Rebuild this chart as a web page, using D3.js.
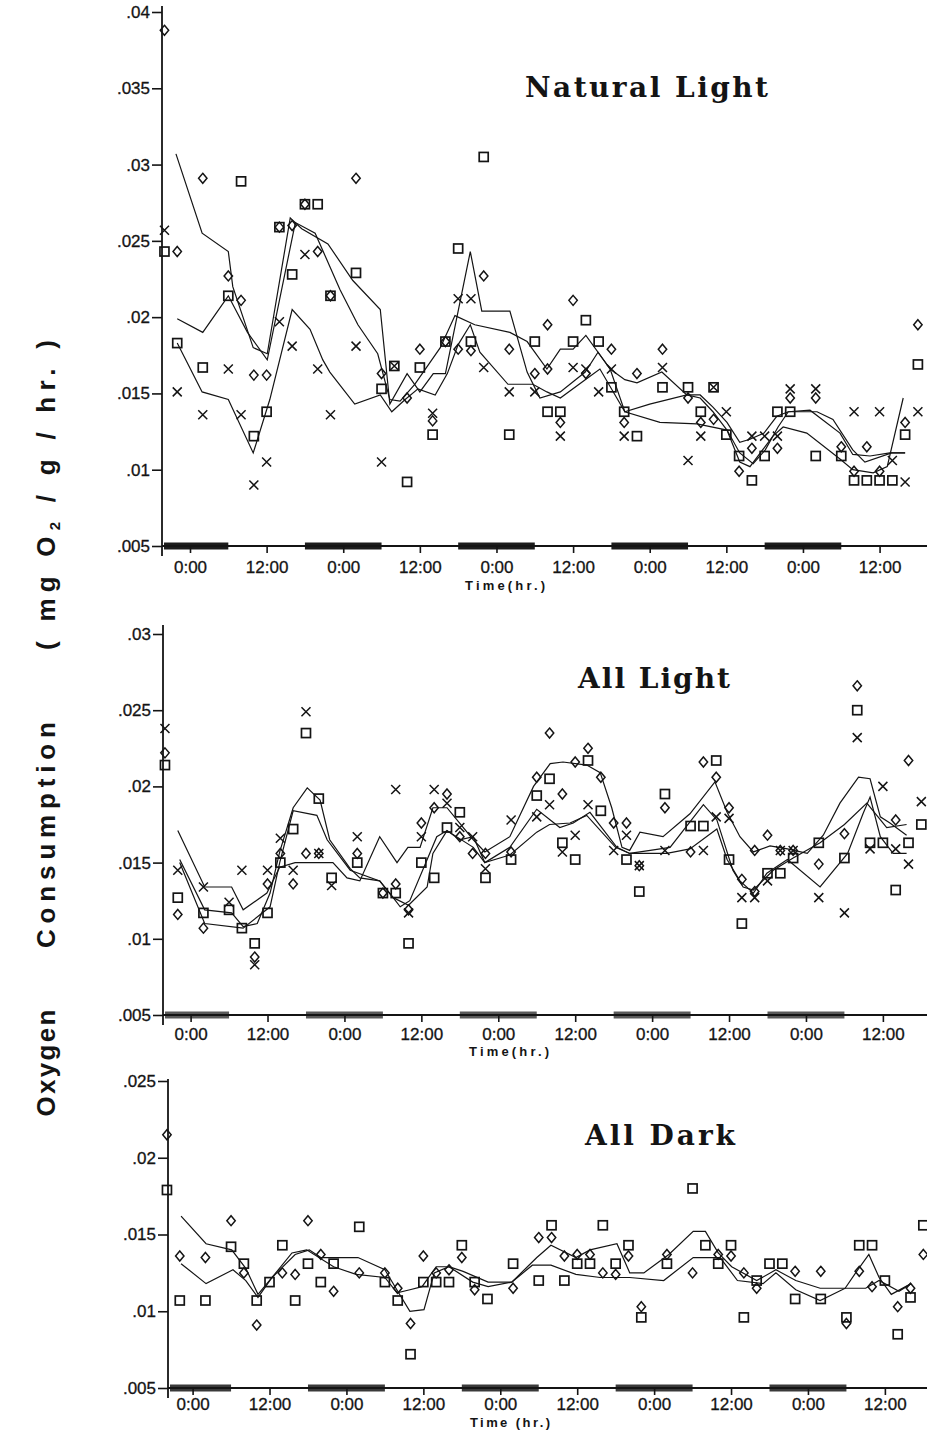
<!DOCTYPE html>
<html>
<head>
<meta charset="utf-8">
<script src="https://cdn.jsdelivr.net/npm/d3@7"></script>
<style>
  body { margin: 0; background: #fff; }
  svg { display: block; }
</style>
</head>
<body>
<div id="chart"></div>
<script>
// ---- data : [hours from first midnight, mg O2 / g / hr] ----
const hourTicks = [0, 12, 24, 36, 48, 60, 72, 84, 96, 108];
const nights = [[-6, 6], [18, 30], [42, 54], [66, 78], [90, 102]];

const naturalTicks = [0.005, 0.01, 0.015, 0.02, 0.025, 0.03, 0.035, 0.04];
const lightTicks = [0.005, 0.01, 0.015, 0.02, 0.025, 0.03];
const darkTicks = [0.005, 0.01, 0.015, 0.02, 0.025];

const naturalDiamond = [[-4,.0388],[-2,.0243],[2,.0291],[6,.0227],[8,.0211],[10,.0162],[12,.0162],[14,.0259],[16,.0260],[18,.0274],[20,.0243],[22,.0214],[26,.0291],[30,.0163],[34,.0147],[36,.0179],[38,.0132],[40,.0184],[42,.0179],[44,.0178],[46,.0227],[50,.0179],[54,.0163],[56,.0195],[56,.0166],[58,.0131],[60,.0211],[62,.0163],[66,.0179],[68,.0131],[70,.0163],[74,.0179],[78,.0147],[80,.0131],[82,.0133],[86,.0099],[88,.0114],[92,.0114],[94,.0147],[98,.0147],[102,.0115],[104,.0099],[106,.0115],[108,.0099],[112,.0131],[114,.0195]];
const naturalSquare = [[-4,.0243],[-2,.0183],[2,.0167],[6,.0214],[8,.0289],[10,.0122],[12,.0138],[14,.0259],[16,.0228],[18,.0274],[20,.0274],[22,.0214],[26,.0229],[30,.0153],[32,.0168],[34,.0092],[36,.0167],[38,.0123],[40,.0184],[42,.0245],[44,.0184],[46,.0305],[50,.0123],[54,.0184],[56,.0138],[58,.0138],[60,.0184],[62,.0198],[64,.0184],[66,.0154],[68,.0138],[70,.0122],[74,.0154],[78,.0154],[80,.0138],[82,.0154],[84,.0123],[86,.0109],[88,.0093],[90,.0109],[92,.0138],[94,.0138],[98,.0109],[102,.0109],[104,.0093],[106,.0093],[108,.0093],[110,.0093],[112,.0123],[114,.0169]];
const naturalCross = [[-4,.0257],[-2,.0151],[2,.0136],[6,.0166],[8,.0136],[10,.0090],[12,.0105],[14,.0197],[16,.0181],[18,.0241],[20,.0166],[22,.0136],[26,.0181],[30,.0105],[32,.0168],[38,.0137],[42,.0212],[44,.0212],[46,.0167],[50,.0151],[54,.0151],[58,.0122],[60,.0167],[62,.0166],[64,.0151],[66,.0166],[68,.0122],[74,.0167],[78,.0106],[80,.0122],[82,.0154],[84,.0138],[88,.0122],[90,.0122],[92,.0122],[94,.0153],[98,.0153],[104,.0138],[108,.0138],[110,.0106],[112,.0092],[114,.0138]];
const naturalLineA = [[-2.2,.0307],[1.9,.0255],[6,.0243],[6.7,.0220],[9.9,.0180],[12.1,.0176],[15.7,.0265],[17.5,.0258],[21.6,.0248],[25.5,.0224],[29.8,.0205],[31.3,.0143],[34,.0163],[36,.0151],[38.1,.0163],[40,.0163],[43.9,.0243],[45.7,.0204],[50.1,.0204],[52.8,.0164],[54.8,.0147],[58,.0151],[61.9,.0164],[63.9,.0177],[65.8,.0166],[68.1,.0159],[70,.0157],[73.9,.0164],[77.8,.0149],[79.9,.0149],[81.9,.0141],[84.1,.0131],[86.1,.0118],[87.7,.0120],[89.9,.0124],[91.9,.0135],[93.7,.0138],[98.2,.0138],[100.7,.0133],[103.8,.0113],[105.7,.0105],[109.9,.0111],[112,.0111]];
const naturalLineB = [[-2,.0199],[2,.0190],[6,.0214],[9,.0190],[12.1,.0172],[16.5,.0262],[19.6,.0255],[23.5,.0218],[26.3,.0195],[29.4,.0176],[31.3,.0146],[32.9,.0145],[35.2,.0156],[39.2,.0180],[41.5,.0201],[44.6,.0195],[50.1,.0190],[52.8,.0184],[55.9,.0166],[58,.0179],[60,.0179],[62,.0188],[65.8,.0166],[68.1,.0138],[72,.0143],[77.8,.0149],[79.9,.0147],[81.9,.0138],[84.1,.0126],[86.1,.0111],[88.2,.0104],[90.1,.0113],[92.1,.0128],[93.7,.0138],[97.1,.0139],[101.8,.0124],[103.8,.0110],[106.5,.0109],[109.6,.0111],[112,.0111]];
const naturalLineC = [[-2,.0183],[1.9,.0151],[6,.0146],[9.9,.0111],[12.5,.0146],[16,.0205],[18.8,.0192],[20.8,.0172],[21.9,.0164],[25.8,.0143],[29.8,.0149],[31.6,.0138],[33.7,.0146],[35.7,.0153],[38.4,.0149],[40.3,.0163],[42,.0182],[43.9,.0195],[45.4,.0177],[49.8,.0156],[53.7,.0156],[55.9,.0151],[58,.0147],[61.9,.0159],[64.2,.0166],[68.1,.0138],[73.6,.0131],[79.4,.0130],[84.1,.0126],[86.1,.0105],[87.7,.0102],[91.3,.0122],[92.9,.0128],[96.6,.0124],[101.8,.0107],[103.8,.0100],[107,.0098],[109.2,.0102],[111.7,.0147]];

const lightDiamond = [[-4,.0222],[-2,.0116],[2,.0107],[10,.0088],[12,.0136],[14,.0156],[16,.0136],[18,.0156],[20,.0156],[26,.0156],[30,.0130],[32,.0136],[34,.0119],[36,.0176],[38,.0186],[40,.0195],[42,.0167],[44,.0156],[46,.0156],[50,.0157],[54,.0206],[56,.0235],[58,.0195],[60,.0216],[62,.0225],[64,.0206],[66,.0176],[68,.0176],[70,.0148],[74,.0186],[78,.0157],[80,.0216],[82,.0206],[84,.0186],[86,.0139],[88,.0131],[88,.0158],[90,.0168],[92,.0158],[94,.0158],[98,.0149],[102,.0169],[104,.0266],[110,.0178],[112,.0217]];
const lightSquare = [[-4,.0214],[-2,.0127],[2,.0117],[6,.0119],[8,.0107],[10,.0097],[12,.0117],[14,.0150],[16,.0172],[18,.0235],[20,.0192],[22,.0140],[26,.0150],[30,.0130],[32,.0130],[34,.0097],[36,.0150],[38,.0140],[40,.0173],[42,.0183],[46,.0140],[50,.0152],[54,.0194],[56,.0205],[58,.0163],[60,.0152],[62,.0217],[64,.0184],[68,.0152],[70,.0131],[74,.0195],[78,.0174],[80,.0174],[82,.0217],[84,.0152],[86,.0110],[90,.0143],[92,.0143],[94,.0153],[98,.0163],[102,.0153],[104,.0250],[106,.0163],[108,.0163],[110,.0132],[112,.0163],[114,.0175]];
const lightCross = [[-4,.0238],[-2,.0145],[2,.0134],[6,.0124],[8,.0145],[10,.0083],[12,.0145],[14,.0166],[16,.0145],[18,.0249],[20,.0156],[22,.0135],[26,.0167],[32,.0198],[34,.0117],[36,.0167],[38,.0198],[40,.0189],[42,.0173],[44,.0167],[46,.0146],[50,.0178],[54,.0180],[56,.0188],[58,.0157],[60,.0168],[62,.0188],[66,.0158],[68,.0168],[70,.0148],[74,.0158],[80,.0158],[82,.0180],[84,.0179],[86,.0127],[88,.0127],[90,.0138],[92,.0158],[94,.0158],[98,.0127],[102,.0117],[104,.0232],[106,.0159],[108,.0200],[110,.0159],[112,.0149],[114,.0190]];
const lightLineA = [[-2,.0171],[2.2,.0134],[6.4,.0134],[8.2,.0119],[11.9,.0130],[13.9,.0147],[16.3,.0150],[22.2,.0150],[24.4,.0140],[26.4,.0138],[29.5,.0167],[32.2,.0150],[33.9,.0160],[35.8,.0160],[37.8,.0186],[40,.0186],[44.1,.0165],[45.9,.0157],[49.8,.0167],[53.5,.0200],[56.1,.0215],[58.1,.0216],[61.8,.0214],[63.9,.0209],[65.7,.0186],[67.3,.0160],[68.5,.0158],[70.1,.0170],[73.7,.0167],[77.9,.0182],[81.8,.0203],[83.7,.0183],[85.7,.0167],[87.8,.0157],[90.4,.0161],[93.1,.0159],[96.2,.0156],[98.7,.0168],[101.3,.0189],[104.2,.0206],[106,.0205],[107.6,.0180],[109.1,.0176],[111.7,.0168]];
const lightLineB = [[-1.7,.0152],[2.2,.0119],[6.4,.0117],[8.2,.0108],[10.4,.0110],[12.4,.0130],[13.9,.0157],[16,.0186],[18.2,.0199],[20.2,.0191],[21.7,.0165],[24.9,.0146],[26.4,.0140],[29.5,.0138],[31.6,.0127],[32.7,.0121],[34.2,.0125],[37.3,.0156],[38.4,.0167],[40,.0171],[44.1,.0160],[45.9,.0150],[49.8,.0160],[54,.0185],[57.6,.0173],[59.7,.0176],[62.3,.0183],[66.5,.0160],[68.5,.0156],[71.7,.0158],[74.8,.0160],[80,.0188],[82.1,.0178],[84.6,.0145],[86.2,.0134],[87.8,.0132],[90.9,.0145],[94,.0153],[98.2,.0163],[102,.0175],[105.5,.0189],[108.6,.0173],[111.7,.0175]];
const lightLineC = [[-1.7,.0150],[2.2,.0110],[8.2,.0107],[12.4,.0121],[13.9,.0150],[16,.0184],[19.7,.0181],[21.3,.0165],[24.9,.0145],[29.5,.0138],[31.6,.0127],[34,.0122],[36.9,.0134],[37.8,.0156],[40,.0171],[42,.0165],[44.1,.0167],[45.9,.0150],[49.8,.0155],[54,.0170],[56,.0175],[59.2,.0176],[61.8,.0181],[66.3,.0160],[68.5,.0156],[74.3,.0156],[77.9,.0159],[82.1,.0172],[83.7,.0152],[85.7,.0138],[87.8,.0130],[89.9,.0143],[93.1,.0152],[98.2,.0134],[102.5,.0156],[104.9,.0182],[106,.0193],[107.6,.0167],[109.6,.0156],[111.7,.0156]];

const darkDiamond = [[-4,.0215],[-2,.0136],[2,.0135],[6,.0159],[8,.0125],[10,.0091],[14,.0125],[16,.0124],[18,.0159],[20,.0137],[22,.0113],[26,.0125],[30,.0125],[32,.0115],[34,.0092],[36,.0136],[38,.0125],[40,.0127],[42,.0135],[44,.0114],[50,.0115],[54,.0148],[56,.0148],[58,.0136],[60,.0137],[62,.0137],[64,.0125],[66,.0124],[68,.0136],[70,.0103],[74,.0137],[78,.0125],[82,.0137],[84,.0136],[86,.0125],[88,.0115],[94,.0126],[98,.0126],[102,.0092],[104,.0126],[106,.0116],[110,.0103],[112,.0115],[114,.0137]];
const darkSquare = [[-4,.0179],[-2,.0107],[2,.0107],[6,.0142],[8,.0131],[10,.0107],[12,.0119],[14,.0143],[16,.0107],[18,.0131],[20,.0119],[22,.0131],[26,.0155],[30,.0119],[32,.0107],[34,.0072],[36,.0119],[38,.0119],[40,.0119],[42,.0143],[44,.0119],[46,.0108],[50,.0131],[54,.0120],[56,.0156],[58,.0120],[60,.0131],[62,.0131],[64,.0156],[66,.0131],[68,.0143],[70,.0096],[74,.0131],[78,.0180],[80,.0143],[82,.0131],[84,.0143],[86,.0096],[88,.0120],[90,.0131],[92,.0131],[94,.0108],[98,.0108],[102,.0096],[104,.0143],[106,.0143],[108,.0120],[110,.0085],[112,.0109],[114,.0156]];
const darkLineA = [[-1.8,.0162],[2.1,.0144],[6.1,.0140],[8.3,.0128],[10.2,.0111],[12.4,.0122],[16,.0137],[18.2,.0140],[20,.0135],[22,.0135],[25.8,.0135],[30,.0127],[32,.0113],[33.9,.0100],[36.1,.0101],[37.7,.0125],[40,.0129],[42.2,.0126],[46.1,.0119],[49.8,.0119],[53.7,.0135],[55.9,.0143],[59.8,.0135],[62,.0140],[66.2,.0144],[68.2,.0125],[70.4,.0125],[74.3,.0137],[78.1,.0152],[80,.0152],[82,.0138],[84.1,.0129],[88,.0120],[91,.0127],[94.1,.0120],[97.9,.0115],[101.8,.0115],[103.6,.0126],[105.5,.0137],[107.1,.0122],[109,.0111],[112.1,.0118]];
const darkLineB = [[-1.8,.0131],[2.1,.0118],[6.3,.0127],[8.3,.0120],[10.2,.0109],[12.4,.0122],[15.5,.0138],[17.8,.0140],[22,.0129],[25.5,.0124],[30,.0122],[31.9,.0112],[33.9,.0114],[35.8,.0116],[38,.0129],[40,.0129],[43.7,.0119],[46.1,.0116],[49.8,.0119],[53,.0130],[55.9,.0130],[59.8,.0124],[63.6,.0122],[68.2,.0122],[73.5,.0120],[78.1,.0135],[80,.0135],[82.3,.0135],[85,.0120],[89,.0118],[91,.0125],[94.1,.0114],[97.9,.0107],[101.8,.0115],[105,.0115],[107.1,.0120],[110.2,.0113],[112.1,.0118]];

(function () {
  const W = 927, H = 1431;
  const ink = "#141414";
  const sans = "'Liberation Sans', Arial, sans-serif";

  const svg = d3.select("#chart").append("svg")
    .attr("width", W).attr("height", H)
    .style("background", "#fff");

  const panels = [
    {
      title: "Natural Light", titleX: 525, titleY: 97, titleLen: 243,
      yMax: 0.04, yTicks: naturalTicks, top: 12, bottom: 546, axisTop: 6,
      axisX: 162, zeroX: 190, pxPerHour: 6.385, tickPad: 8, barColor: "#1c1c1c",
      timeLabel: "Time(hr.)", timeX: 505, timeY: 590,
      diamond: naturalDiamond, square: naturalSquare, cross: naturalCross,
      lines: [naturalLineA, naturalLineB, naturalLineC]
    },
    {
      title: "All Light", titleX: 578, titleY: 688, titleLen: 152,
      yMax: 0.03, yTicks: lightTicks, top: 634, bottom: 1015, axisTop: 625,
      axisX: 163, zeroX: 190.6, pxPerHour: 6.41, tickPad: 6, barColor: "#5a5a5a",
      timeLabel: "Time(hr.)", timeX: 509, timeY: 1056,
      diamond: lightDiamond, square: lightSquare, cross: lightCross,
      lines: [lightLineA, lightLineB, lightLineC]
    },
    {
      title: "All Dark", titleX: 585, titleY: 1145, titleLen: 150,
      yMax: 0.025, yTicks: darkTicks, top: 1081, bottom: 1388, axisTop: 1079,
      axisX: 168, zeroX: 192.6, pxPerHour: 6.41, tickPad: 3, barColor: "#3a3a3a",
      timeLabel: "Time (hr.)", timeX: 510, timeY: 1427,
      diamond: darkDiamond, square: darkSquare, cross: [],
      lines: [darkLineA, darkLineB]
    }
  ];

  const fmtY = d => d3.format(".3~f")(d).replace(/^0/, "");
  const fmtX = h => (h % 24 === 0 ? "0:00" : "12:00");

  panels.forEach(p => {
    const g = svg.append("g");
    const x = d3.scaleLinear().domain([0, 96]).range([p.zeroX, p.zeroX + 96 * p.pxPerHour]);
    const y = d3.scaleLinear().domain([0.005, p.yMax]).range([p.bottom, p.top]);
    const base = y(0.005);

    // dark periods on the time axis
    g.selectAll("rect.night").data(nights).join("rect")
      .attr("class", "night")
      .attr("x", d => Math.max(p.axisX + 2, x(d[0])))
      .attr("width", d => x(d[1]) - Math.max(p.axisX + 2, x(d[0])))
      .attr("y", base - 3.5)
      .attr("height", 7)
      .attr("fill", p.barColor);

    // axis lines
    g.append("line")
      .attr("x1", p.axisX).attr("x2", W)
      .attr("y1", base).attr("y2", base)
      .attr("stroke", ink).attr("stroke-width", 1.8);
    g.append("line")
      .attr("x1", p.axisX).attr("x2", p.axisX)
      .attr("y1", p.axisTop).attr("y2", base + 10)
      .attr("stroke", ink).attr("stroke-width", 1.8);

    const yAxis = g.append("g")
      .attr("transform", `translate(${p.axisX},0)`)
      .call(d3.axisLeft(y).tickValues(p.yTicks).tickFormat(fmtY).tickSize(10).tickPadding(2));
    yAxis.select(".domain").remove();

    const xAxis = g.append("g")
      .attr("transform", `translate(0,${base})`)
      .call(d3.axisBottom(x).tickValues(hourTicks).tickFormat(fmtX).tickSize(7).tickPadding(p.tickPad));
    xAxis.select(".domain").remove();

    [yAxis, xAxis].forEach(a => {
      a.attr("font-family", sans).attr("font-size", 17);
      a.selectAll("line").attr("stroke", ink).attr("stroke-width", 1.6);
      a.selectAll("text").attr("fill", ink)
        .attr("stroke", ink).attr("stroke-width", 0.3);
    });

    // title
    g.append("text")
      .attr("x", p.titleX).attr("y", p.titleY)
      .attr("textLength", p.titleLen).attr("lengthAdjust", "spacing")
      .attr("font-family", "'DejaVu Serif', 'Liberation Serif', serif")
      .attr("font-weight", "bold").attr("font-size", 28)
      .attr("fill", ink)
      .text(p.title);

    g.append("text")
      .attr("x", p.timeX).attr("y", p.timeY)
      .attr("text-anchor", "middle")
      .attr("textLength", 80).attr("lengthAdjust", "spacing")
      .attr("font-family", sans).attr("font-weight", "bold").attr("font-size", 13)
      .attr("fill", ink)
      .text(p.timeLabel);

    // smoothed traces
    const line = d3.line().x(d => x(d[0])).y(d => y(d[1]));
    g.selectAll("path.trace").data(p.lines).join("path")
      .attr("class", "trace")
      .attr("d", line)
      .attr("fill", "none")
      .attr("stroke", ink)
      .attr("stroke-width", 1.2);

    // markers
    g.selectAll("path.diamond").data(p.diamond).join("path")
      .attr("class", "diamond")
      .attr("transform", d => `translate(${x(d[0])},${y(d[1])})`)
      .attr("d", "M0,-5L4.2,0L0,5L-4.2,0Z")
      .attr("fill", "none").attr("stroke", ink).attr("stroke-width", 1.5);

    g.selectAll("rect.square").data(p.square).join("rect")
      .attr("class", "square")
      .attr("x", d => x(d[0]) - 4.5)
      .attr("y", d => y(d[1]) - 4.5)
      .attr("width", 9).attr("height", 9)
      .attr("fill", "none").attr("stroke", ink).attr("stroke-width", 1.7);

    g.selectAll("path.cross").data(p.cross).join("path")
      .attr("class", "cross")
      .attr("transform", d => `translate(${x(d[0])},${y(d[1])})`)
      .attr("d", "M-4.5,-4.5L4.5,4.5M-4.5,4.5L4.5,-4.5")
      .attr("fill", "none").attr("stroke", ink).attr("stroke-width", 1.5);
  });

  // shared vertical axis title
  const yLabels = [
    { parts: [["Oxygen", false]], cy: 1063, len: 107 },
    { parts: [["Consumption", false]], cy: 835, len: 226 },
    { parts: [["( mg O", false], ["2", true], [" / g / hr. )", false]], cy: 495, len: 310 }
  ];
  yLabels.forEach(l => {
    const t = svg.append("text")
      .attr("transform", `translate(55,${l.cy}) rotate(-90)`)
      .attr("text-anchor", "middle")
      .attr("textLength", l.len).attr("lengthAdjust", "spacing")
      .attr("font-family", sans).attr("font-weight", "bold").attr("font-size", 26)
      .attr("fill", ink);
    l.parts.forEach(([s, sub]) => {
      const ts = t.append("tspan").text(s);
      if (sub) ts.attr("font-size", 15).attr("dy", 5);
      else if (s.startsWith(" /")) ts.attr("dy", -5);
    });
  });
})();
</script>
</body>
</html>
